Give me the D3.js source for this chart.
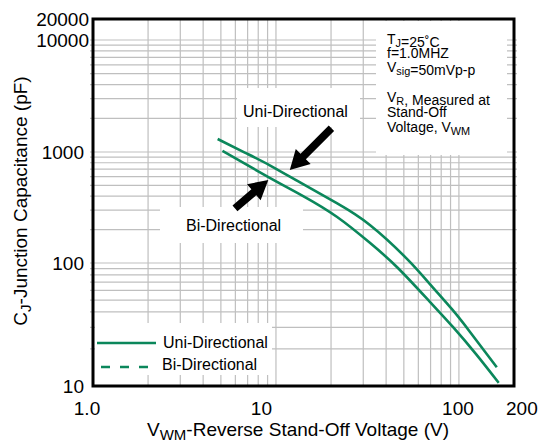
<!DOCTYPE html>
<html>
<head>
<meta charset="utf-8">
<script src="https://cdn.jsdelivr.net/npm/d3@7"></script>
<style>
  html, body { margin: 0; padding: 0; background: #fff; }
  svg { display: block; font-family: "Liberation Sans", Arial, sans-serif; }
</style>
</head>
<body>
<svg id="chart" width="541" height="444"></svg>
<script>
// ---- data ----
const uniVoltage = [4.8, 6.8, 9.3, 14, 21.5, 32.6, 52, 69.4, 91.6, 115, 161];
const uniCap     = [1307, 983, 755, 515, 346, 220, 109, 67.4, 42.1, 27.5, 14.2];
const biVoltage  = [5.1, 9.3, 14, 21.5, 32.6, 46.4, 69.4, 92.7, 125, 165];
const biCap      = [1021, 582, 403, 261, 152, 91.1, 48.3, 30.2, 17.9, 10.6];

const xTickValues = [1, 10, 100, 200];
const xTickLabels = ["1.0", "10", "100", "200"];
const yTickValues = [10, 100, 1000, 10000, 20000];
const yTickLabels = ["10", "100", "1000", "10000", "20000"];

const xGridValues = [2,3,4,5,6,7,8,9,10,20,30,40,50,60,70,80,90,100];
const yGridValues = [20,30,40,50,60,70,80,90,100,200,300,400,500,600,700,800,900,1000,
                     2000,3000,4000,5000,6000,7000,8000,9000,10000];

// arrows: [tailV, tailC, tipV, tipC]
const uniArrow = [20.1, 1630, 11.9, 689];
const biArrow  = [5.97, 311, 9.08, 560];

// ---- layout ----
const svg = d3.select("#chart");
const L = 93, R = 514, T = 19, B = 386;
const green = "#0b875b";
const gridColor = "#bfbfbf";

const x = d3.scaleLog().domain([1, 200]).range([L, R]);
const y = d3.scaleLog().domain([10, 100, 1000, 10000, 20000]).range([B, 263, 152, 40, T]);

// grid
const grid = svg.append("g");
grid.selectAll("line.v").data(xGridValues).join("line")
  .attr("x1", d => x(d)).attr("x2", d => x(d))
  .attr("y1", T).attr("y2", B)
  .attr("stroke", gridColor).attr("stroke-width", 1.2);
grid.selectAll("line.h").data(yGridValues).join("line")
  .attr("x1", L - 3).attr("x2", R + 3)
  .attr("y1", d => y(d)).attr("y2", d => y(d))
  .attr("stroke", gridColor).attr("stroke-width", 1.2);

// white boxes that mask the grid
const boxes = [
  [376, 21, 131, 134],   // conditions
  [237, 88, 123, 39],    // Uni label
  [160, 207, 143, 36],   // Bi label
  [95, 323, 177, 52]     // legend
];
svg.append("g").selectAll("rect").data(boxes).join("rect")
  .attr("x", d => d[0]).attr("y", d => d[1]).attr("width", d => d[2]).attr("height", d => d[3])
  .attr("fill", "#fff");

// curves
const line = d3.line().x(d => x(d[0])).y(d => y(d[1])).curve(d3.curveNatural);
const uniData = uniVoltage.map((v, i) => [v, uniCap[i]]);
const biData = biVoltage.map((v, i) => [v, biCap[i]]);
svg.append("path").datum(uniData).attr("d", line)
  .attr("fill", "none").attr("stroke", green).attr("stroke-width", 2.6);
svg.append("path").datum(biData).attr("d", line)
  .attr("fill", "none").attr("stroke", green).attr("stroke-width", 2.6);

// frame
svg.append("rect").attr("x", L).attr("y", T).attr("width", R - L).attr("height", B - T)
  .attr("fill", "none").attr("stroke", "#000").attr("stroke-width", 3);

// arrows
function arrowPoints(a) {
  const tx = x(a[0]), ty = y(a[1]), px = x(a[2]), py = y(a[3]);
  const dx = px - tx, dy = py - ty, len = Math.hypot(dx, dy);
  const ux = dx / len, uy = dy / len, nx = -uy, ny = ux;
  const hl = 19, hw = 10.5, sw = 3.8;
  const bx = px - ux * hl, by = py - uy * hl;
  return [
    [tx + nx * sw, ty + ny * sw], [bx + nx * sw, by + ny * sw], [bx + nx * hw, by + ny * hw],
    [px, py],
    [bx - nx * hw, by - ny * hw], [bx - nx * sw, by - ny * sw], [tx - nx * sw, ty - ny * sw]
  ].map(p => p.join(",")).join(" ");
}
svg.append("polygon").attr("points", arrowPoints(uniArrow)).attr("fill", "#000");
svg.append("polygon").attr("points", arrowPoints(biArrow)).attr("fill", "#000");

// annotation labels
svg.append("text").attr("x", 243).attr("y", 117).attr("font-size", 16).text("Uni-Directional");
svg.append("text").attr("x", 186).attr("y", 231).attr("font-size", 16).text("Bi-Directional");

// conditions text with subscripts
function subText(xp, yp, parts, fs) {
  const t = svg.append("text").attr("x", xp).attr("y", yp).attr("font-size", fs);
  parts.forEach(p => {
    if (p.sub) {
      t.append("tspan").attr("dy", 3).attr("font-size", fs * 0.78).text(p.sub);
      t.append("tspan").attr("dy", -3).text("");
    } else {
      t.append("tspan").text(p.t);
    }
  });
  return t;
}
subText(387, 44, [{t: "T"}, {sub: "J"}, {t: "=25˚C"}], 14);
subText(387, 58, [{t: "f=1.0MHZ"}], 14);
subText(387, 72, [{t: "V"}, {sub: "sig"}, {t: "=50mVp-p"}], 14);
subText(387, 102, [{t: "V"}, {sub: "R"}, {t: ", Measured at"}], 14);
subText(387, 117, [{t: "Stand-Off"}], 14);
subText(387, 132, [{t: "Voltage, V"}, {sub: "WM"}], 14);

// legend
svg.append("line").attr("x1", 97).attr("x2", 156).attr("y1", 343).attr("y2", 343)
  .attr("stroke", green).attr("stroke-width", 2.6);
svg.append("line").attr("x1", 101).attr("x2", 150).attr("y1", 367).attr("y2", 367)
  .attr("stroke", green).attr("stroke-width", 2.6).attr("stroke-dasharray", "9,10");
svg.append("text").attr("x", 163).attr("y", 348).attr("font-size", 16).text("Uni-Directional");
svg.append("text").attr("x", 162).attr("y", 370).attr("font-size", 16).text("Bi-Directional");

// tick labels
const xAnchor = {"1.0": ["middle", -6], "10": ["end", -4], "100": ["middle", -1], "200": ["start", -8]};
svg.append("g").selectAll("text").data(xTickValues).join("text")
  .attr("x", (d, i) => x(d) + xAnchor[xTickLabels[i]][1])
  .attr("y", 415)
  .attr("text-anchor", (d, i) => xAnchor[xTickLabels[i]][0])
  .attr("font-size", 19)
  .text((d, i) => xTickLabels[i]);
svg.append("g").selectAll("text").data(yTickValues).join("text")
  .attr("x", (d, i) => (d >= 10000 ? 89 : 84))
  .attr("y", d => y(d) + 7)
  .attr("text-anchor", "end")
  .attr("font-size", 19)
  .text((d, i) => yTickLabels[i]);

// axis titles
const xt = svg.append("text").attr("x", 298).attr("y", 436).attr("text-anchor", "middle").attr("font-size", 19);
xt.append("tspan").text("V");
xt.append("tspan").attr("dy", 4).attr("font-size", 15).text("WM");
xt.append("tspan").attr("dy", -4).text("-Reverse Stand-Off Voltage (V)");

const yt = svg.append("text").attr("transform", "translate(27,201) rotate(-90)")
  .attr("text-anchor", "middle").attr("font-size", 19);
yt.append("tspan").text("C");
yt.append("tspan").attr("dy", 4).attr("font-size", 15).text("J");
yt.append("tspan").attr("dy", -4).text("-Junction Capacitance (pF)");
</script>
</body>
</html>
